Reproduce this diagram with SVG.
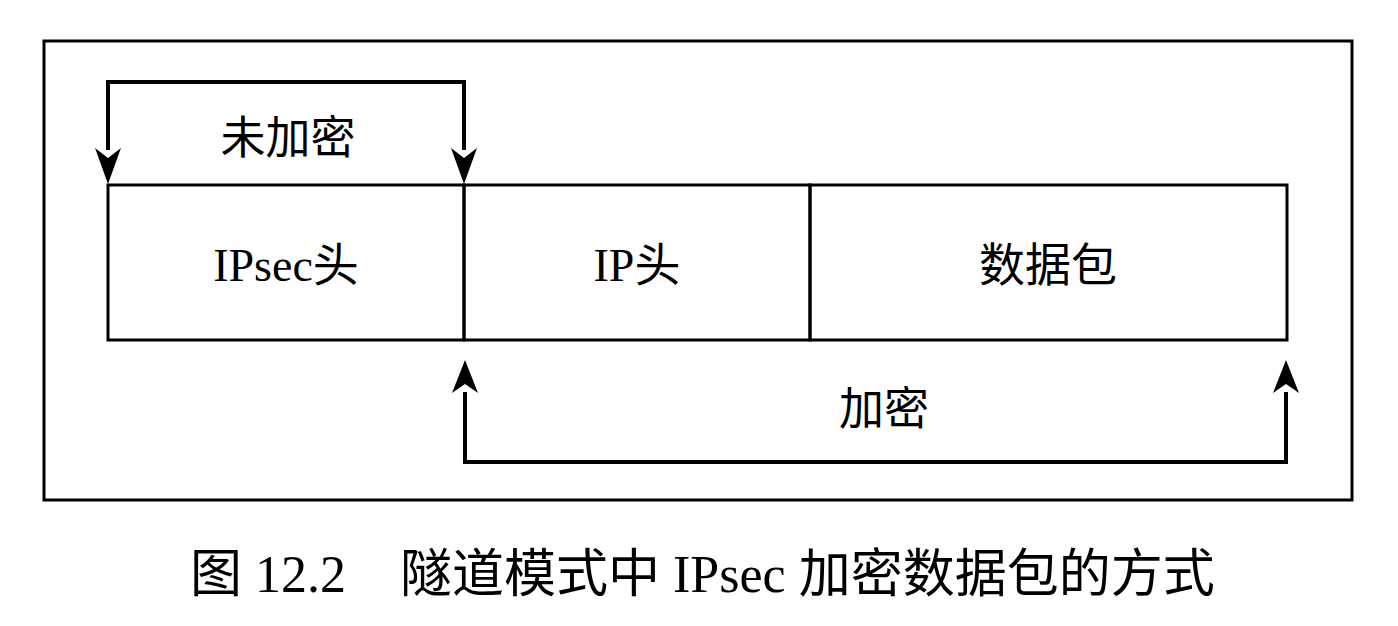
<svg xmlns="http://www.w3.org/2000/svg" width="1398" height="626" viewBox="0 0 1398 626">
<style>
.t{font-family:"Liberation Serif","Noto Sans CJK SC",serif;fill:#000;text-anchor:middle;dominant-baseline:central}
.box{fill:none;stroke:#000;stroke-width:3}
.con{fill:none;stroke:#000;stroke-width:4}
.head{fill:#000}
</style>
<rect width="1398" height="626" fill="#fff"/>
<rect id="frame" x="44" y="41" width="1308" height="459" class="box"/>
<g id="ipsec-header">
<rect x="108" y="185" width="356" height="155" class="box"/>
<text class="t" x="286" y="265" font-size="46">IPsec头</text>
</g>
<g id="ip-header">
<rect x="464" y="185" width="346" height="155" class="box"/>
<text class="t" x="637" y="265" font-size="46">IP头</text>
</g>
<g id="payload">
<rect x="810" y="185" width="477" height="155" class="box"/>
<text class="t" x="1048" y="265" font-size="46">数据包</text>
</g>
<g id="connectors">
<path d="M108,150 V82 H464 V150" class="con"/>
<polygon class="head" points="95,148 108,184 121,148 108,158"/>
<polygon class="head" points="451,148 464,184 477,148 464,158"/>
<path d="M465,392 V462 H1286 V392" class="con"/>
<polygon class="head" points="452,393 465,360 478,393 465,384"/>
<polygon class="head" points="1273,393 1286,360 1299,393 1286,384"/>
<text class="t" x="288" y="139" font-size="45">未加密</text>
<text class="t" x="884" y="410" font-size="45">加密</text>
</g>
<g id="caption">
<text x="190" y="592" font-size="52" style="font-family:'Liberation Serif','Noto Sans CJK SC',serif">图 12.2<tspan x="400">隧道模式中 IPsec 加密数据包的方式</tspan></text>
</g>
</svg>
